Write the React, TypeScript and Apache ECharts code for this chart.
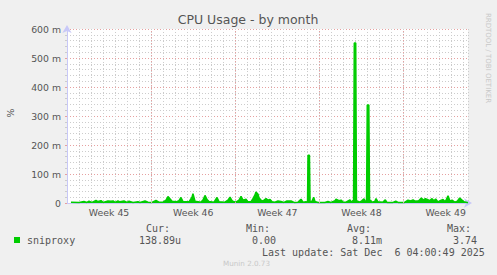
import React, { useEffect, useRef } from "react";
import * as echarts from "echarts";

// Days since Mon 3 Nov 2025 00:00, and CPU usage in milli-percent
const days = [
  0.33, 1.0, 1.41, 1.66, 1.83, 2.08, 2.41, 2.58, 2.83, 3.0, 3.41, 3.66, 3.83, 3.99, 4.24, 4.41, 4.74, 4.99,
  5.16, 5.49, 5.91, 6.07, 6.49, 6.74, 7.07, 7.4, 7.65, 7.99, 8.24, 8.4, 8.49, 8.74, 9.07, 9.32, 9.48, 9.65,
  10.15, 10.4, 10.48, 10.65, 11.15, 11.31, 11.48, 11.65, 11.81, 12.23, 12.48, 12.65, 13.14, 13.39, 13.56,
  13.73, 13.89, 14.06, 14.31, 14.48, 14.64, 14.89, 15.06, 15.31, 15.47, 15.64, 15.72, 15.89, 15.97, 16.22,
  16.39, 16.56, 16.72, 16.89, 17.06, 17.3, 17.55, 17.8, 18.05, 18.3, 18.64, 18.89, 19.22, 19.47, 19.63,
  19.88, 20.01, 20.05, 20.17, 20.22, 20.38, 20.52, 20.63, 20.88, 21.46, 21.71, 21.96, 22.3, 22.38, 22.63,
  22.8, 22.96, 23.21, 23.54, 23.63, 23.79, 23.84, 23.9, 24.02, 24.08, 24.38, 24.54, 24.71, 24.83, 24.92,
  24.98, 25.11, 25.17, 25.25, 25.37, 25.6, 25.71, 25.87, 26.29, 26.48, 26.62, 27.12, 27.35, 27.54, 28.09,
  28.37, 28.59, 28.79, 28.98, 29.26, 29.48, 29.64, 29.81, 29.98, 30.17, 30.37, 30.53, 30.67, 30.86, 31.09,
  31.28, 31.47, 31.7, 31.86, 32.03, 32.25, 32.47, 32.67, 32.86, 33.03, 33.36,
];
const usage = [
  3, 2, 5, 2, 6, 2, 9, 5, 8, 2, 7, 6, 7, 2, 7, 4, 7, 2,
  6, 2, 4, 2, 7, 3, 2, 9, 3, 3, 10, 22, 18, 6, 4, 8, 19, 5,
  4, 20, 32, 6, 3, 10, 26, 12, 5, 3, 19, 4, 3, 10, 20,
  8, 4, 3, 10, 23, 10, 13, 4, 5, 15, 28, 38, 30, 18, 6,
  10, 15, 10, 12, 4, 3, 7, 5, 2, 7, 7, 2, 3, 13, 3,
  4, 3, 165, 165, 3, 6, 20, 5, 2, 2, 5, 2, 8, 13, 8,
  10, 3, 3, 11, 3, 8, 10, 552, 552, 8, 3, 8, 14, 5, 5,
  338, 338, 8, 10, 3, 5, 15, 4, 3, 11, 2, 2, 6, 2, 2,
  10, 7, 11, 6, 8, 17, 10, 15, 12, 8, 15, 8, 14, 4, 9,
  12, 4, 25, 6, 10, 3, 6, 17, 10, 4, 1,
];

const weekLabels = ["Week 45", "Week 46", "Week 47", "Week 48", "Week 49"];
const weekLabelDays = [3.5, 10.5, 17.5, 24.5, 31.5];
const weekStartDays = [7, 14, 21, 28];

const seriesName = "sniproxy";
const statHeaders = ["Cur:", "Min:", "Avg:", "Max:"];
const statValues = ["138.89u", "0.00", "8.11m", "3.74"];
const lastUpdate = "Last update: Sat Dec\u00a0\u00a06 04:00:49 2025";

export default function App() {
  const ref = useRef<HTMLDivElement>(null);
  useEffect(() => {
    if (!ref.current) return;
    const chart = echarts.init(ref.current, null, { renderer: "svg" });
    const sans = "DejaVu Sans";
    const mono = "DejaVu Sans Mono";
    const txt = "#555555";
    const axisCol = "#c8c8f8";
    const minorGrid = "#cccccc";
    const majorGrid = "#e6a0a0";

    const headerX = [146, 246, 347, 447];
    const valueX = [139, 252, 352, 453];
    const graphics: any[] = [
      {
        type: "text",
        x: 248,
        y: 19,
        style: { text: "CPU Usage - by month", font: `12.5px '${sans}'`, fill: txt, align: "center", verticalAlign: "middle" },
      },
      {
        type: "text",
        x: 10,
        y: 113,
        rotation: Math.PI / 2,
        style: { text: "%", font: `9.33px '${sans}'`, fill: txt, align: "center", verticalAlign: "middle" },
      },
      {
        type: "text",
        x: 488,
        y: 58,
        rotation: -Math.PI / 2,
        style: { text: "RRDTOOL / TOBI OETIKER", font: `7px '${sans}'`, fill: "#c8c8c8", align: "center", verticalAlign: "middle" },
      },
      { type: "rect", shape: { x: 14, y: 237, width: 6, height: 6 }, style: { fill: "#00cc00" } },
      {
        type: "text",
        x: 27,
        y: 240,
        style: { text: seriesName, font: `10px '${mono}'`, fill: txt, align: "left", verticalAlign: "middle" },
      },
      {
        type: "text",
        x: 262,
        y: 252,
        style: { text: lastUpdate, font: `10px '${mono}'`, fill: txt, align: "left", verticalAlign: "middle" },
      },
      {
        type: "text",
        x: 223,
        y: 263,
        style: { text: "Munin 2.0.73", font: `7.2px '${sans}'`, fill: "#c8c8c8", align: "left", verticalAlign: "middle" },
      },
    ];
    statHeaders.forEach((h, i) => {
      graphics.push({
        type: "text",
        x: headerX[i],
        y: 228,
        style: { text: h, font: `10px '${mono}'`, fill: txt, align: "left", verticalAlign: "middle" },
      });
      graphics.push({
        type: "text",
        x: valueX[i],
        y: 240,
        style: { text: statValues[i], font: `10px '${mono}'`, fill: txt, align: "left", verticalAlign: "middle" },
      });
    });

    chart.setOption({
      animation: false,
      backgroundColor: "#f0f0f0",
      grid: {
        left: 67,
        top: 29,
        width: 401,
        height: 174,
        show: true,
        backgroundColor: "#ffffff",
        borderWidth: 0,
      },
      xAxis: {
        type: "value",
        min: 0,
        max: 33.36,
        interval: 1,
        axisLine: {
          show: true,
          lineStyle: { color: axisCol, width: 1 },
          symbol: ["none", "arrow"],
          symbolSize: [7, 8],
          symbolOffset: [0, 4],
        },
        axisTick: { show: false },
        axisLabel: {
          customValues: weekLabelDays,
          formatter: (v: number) => {
            const i = weekLabelDays.findIndex((d) => Math.abs(d - v) < 0.01);
            return i >= 0 ? weekLabels[i] : "";
          },
          color: txt,
          fontSize: 9.33,
          fontFamily: sans,
          margin: 5,
        },
        splitLine: { show: true, lineStyle: { color: minorGrid, type: [1, 2], width: 1 } },
      },
      yAxis: {
        type: "value",
        min: 0,
        max: 600,
        interval: 100,
        axisLine: {
          show: true,
          lineStyle: { color: axisCol, width: 1 },
          symbol: ["none", "arrow"],
          symbolSize: [7, 8],
          symbolOffset: [0, 4],
        },
        axisTick: { show: true, length: 2, lineStyle: { color: majorGrid } },
        minorTick: { show: true, splitNumber: 5, length: 2, lineStyle: { color: minorGrid } },
        axisLabel: {
          formatter: (v: number) => (v === 0 ? "0" : `${v} m`),
          color: txt,
          fontSize: 9.33,
          fontFamily: sans,
          margin: 6,
        },
        splitLine: { show: true, lineStyle: { color: majorGrid, type: [1, 2], width: 1 } },
        minorSplitLine: { show: true, lineStyle: { color: minorGrid, type: [1, 2], width: 1 } },
      },
      series: [
        {
          type: "line",
          z: 1,
          silent: true,
          data: [],
          markLine: {
            silent: true,
            symbol: ["none", "none"],
            label: { show: false },
            lineStyle: { color: majorGrid, type: [1, 2], width: 1, opacity: 1 },
            data: weekStartDays.map((d) => ({ xAxis: d })),
          },
        },
        {
          name: seriesName,
          type: "line",
          z: 3,
          data: days.map((d, i) => [d, usage[i]]),
          showSymbol: false,
          symbol: "none",
          lineStyle: { color: "#00cc00", width: 1.5 },
          areaStyle: { color: "#00cc00", opacity: 1 },
        },
      ],
      graphic: graphics,
    });
    return () => chart.dispose();
  }, []);
  return (
    <div
      ref={ref}
      style={{ position: "absolute", left: 0, top: 0, width: 497, height: 275, background: "#f0f0f0" }}
    />
  );
}
